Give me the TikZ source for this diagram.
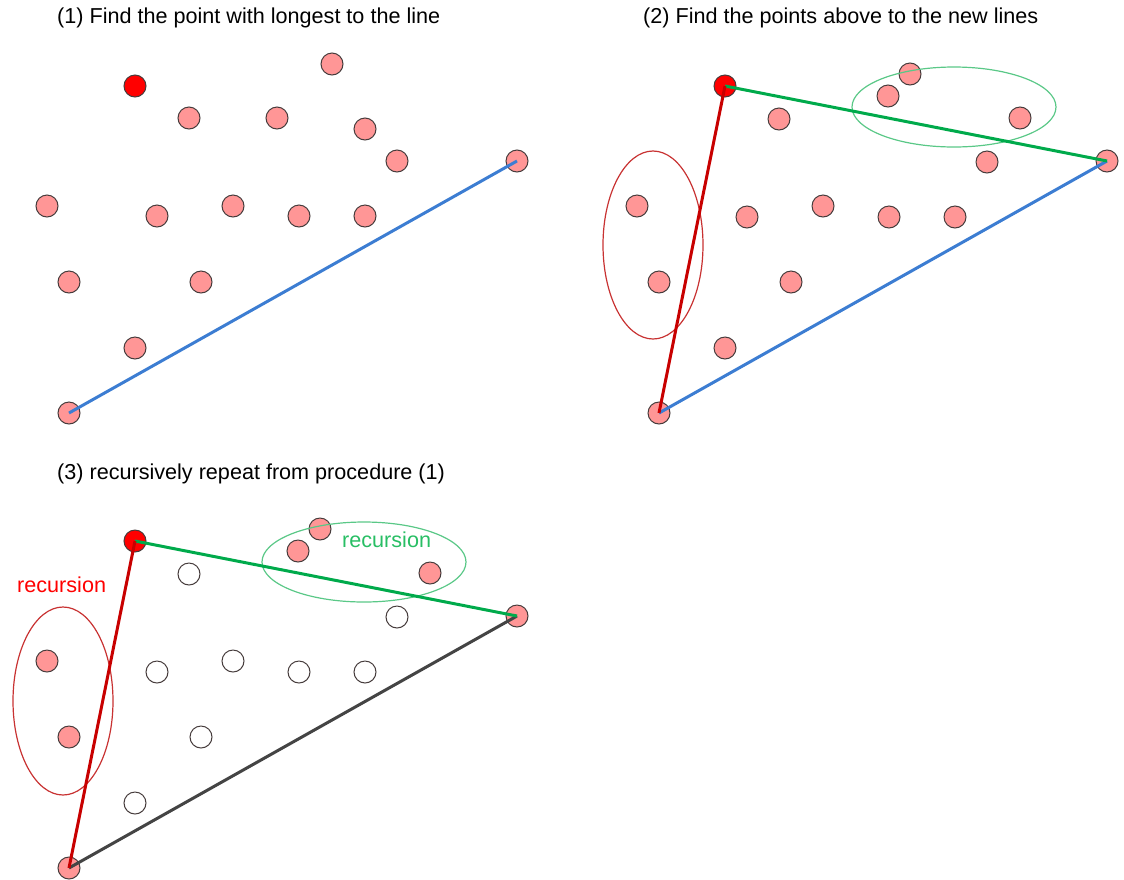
\documentclass[tikz,border=0pt]{standalone}
\usepackage{fontspec}
\setmainfont{Liberation Sans}
\usetikzlibrary{positioning}
\definecolor{ptfill}{RGB}{255,150,150}
\definecolor{ptline}{RGB}{70,60,60}
\definecolor{maxred}{RGB}{255,0,0}
\definecolor{hullblue}{RGB}{60,125,210}
\definecolor{hullgreen}{RGB}{0,170,75}
\definecolor{hullred}{RGB}{200,0,0}
\definecolor{hullgray}{RGB}{68,68,68}
\definecolor{ringgreen}{RGB}{90,200,135}
\definecolor{ringred}{RGB}{200,50,50}
\definecolor{txtgreen}{RGB}{40,190,100}

\begin{document}
\begin{tikzpicture}[x=1pt,y=-1pt,
  every node/.style={font=\fontsize{21.6}{26}\selectfont,inner sep=0pt},
  pt/.style={circle,draw=ptline,fill=ptfill,line width=1pt,minimum size=22pt,inner sep=0pt},
  done/.style={pt,fill=white},
  far/.style={pt,fill=maxred},
  hull/.style={line width=3pt}]
  \useasboundingbox (0,0) rectangle (1124,879);

  % (1)
  \node[anchor=west] (t1) at (57,18) {(1) Find the point with longest to the line};
  \foreach \x/\y [count=\i] in {332/64,189/118,277/118,365/129,397/161,47/206,157/216,233/206,299/216,365/216,69/282,201/282,135/348}
    {\node[pt] (p\i) at (\x,\y) {};}
  \node[far] (m1) at (135,86) {};
  \node[pt] (a1) at (69,413) {};
  \node[pt] (b1) at (517,161) {};
  \draw[hull,hullblue] (a1.center)--(b1.center);

  % (2)
  \begin{scope}[shift={(590,0)}]
    \node[anchor=west] (t2) at (53,18) {(2) Find the points above to the new lines};
    \foreach \x/\y [count=\i] in {320/74,298/96,430/118,189/119,397/162,47/206,157/217,233/206,299/217,365/217,69/282,201/282,135/348}
      {\node[pt] (q\i) at (\x,\y) {};}
    \node[far] (m2) at (135,86) {};
    \node[pt] (a2) at (69,413) {};
    \node[pt] (b2) at (517,161) {};
    \draw[ringgreen,line width=1.2pt] (364,107) ellipse (102 and 40);
    \draw[ringred,line width=1.2pt] (63,245) ellipse (50 and 94);
    \draw[hull,hullblue] (a2.center)--(b2.center);
    \draw[hull,hullgreen] (m2.center)--(b2.center);
    \draw[hull,hullred] (m2.center)--(a2.center);
  \end{scope}

  % (3)
  \begin{scope}[shift={(0,455)}]
    \node[anchor=west] (t3) at (57,19) {(3) recursively repeat from procedure (1)};
    \foreach \x/\y/\s [count=\i] in {320/74/pt,298/96/pt,430/118/pt,189/119/done,397/162/done,47/206/pt,157/217/done,233/206/done,299/217/done,365/217/done,69/282/pt,201/282/done,135/348/done}
      {\node[\s] (r\i) at (\x,\y) {};}
    \node[far] (m3) at (135,86) {};
    \node[pt] (a3) at (69,413) {};
    \node[pt] (b3) at (517,161) {};
    \draw[ringgreen,line width=1.2pt] (364,107) ellipse (102 and 40);
    \draw[ringred,line width=1.2pt] (63,246) ellipse (50 and 94);
    \node[txtgreen,anchor=west] (g3) at (342,85) {recursion};
    \node[maxred,anchor=west] (k3) at (17,130) {recursion};
    \draw[hull,hullgray] (a3.center)--(b3.center);
    \draw[hull,hullgreen] (m3.center)--(b3.center);
    \draw[hull,hullred] (m3.center)--(a3.center);
  \end{scope}
\end{tikzpicture}
\end{document}
